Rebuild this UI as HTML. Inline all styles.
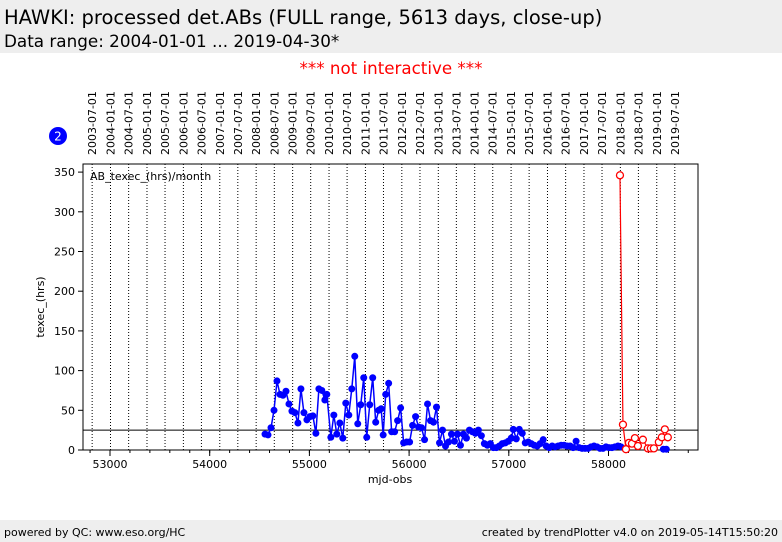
<!DOCTYPE html>
<html><head><meta charset="utf-8"><style>
body{margin:0;width:782px;height:542px;background:#fff;font-family:"DejaVu Sans",sans-serif;overflow:hidden;position:relative}
#hdr{position:absolute;left:0;top:0;width:782px;height:53px;background:#eeeeee}
#t1{position:absolute;left:4px;top:6px;font-size:19.5px}
#t2{position:absolute;left:4px;top:31px;font-size:16.8px}
#ni{position:absolute;left:0;width:782px;top:58px;text-align:center;color:#f00;font-size:16.7px}
#ftr{position:absolute;left:0;top:520px;width:782px;height:22px;background:#eeeeee;font-size:11px}
svg text{font-family:"DejaVu Sans",sans-serif}
</style></head><body>
<div id="hdr">
<div id="t1">HAWKI: processed det.ABs (FULL range, 5613 days, close-up)</div>
<div id="t2">Data range: 2004-01-01 ... 2019-04-30*</div></div>
<div id="ni">*** not interactive ***</div>
<svg id="chart" width="782" height="520" style="position:absolute;left:0;top:0"></svg>
<div id="ftr"><span style="position:absolute;left:4px;top:6px">powered by QC: www.eso.org/HC</span><span style="position:absolute;right:4px;top:6px">created by trendPlotter v4.0 on 2019-05-14T15:50:20</span></div>
<script>
const blueMjd=[54555,54585,54615,54645,54675,54705,54735,54765,54795,54825,54855,54885,54915,54945,54975,55005,55035,55065,55095,55125,55155,55175,55215,55245,55275,55305,55335,55365,55395,55425,55455,55485,55515,55545,55575,55605,55635,55665,55695,55720,55740,55765,55795,55825,55855,55885,55915,55945,55975,56005,56035,56065,56095,56125,56155,56185,56215,56245,56275,56305,56335,56365,56395,56425,56455,56485,56515,56545,56575,56605,56635,56665,56695,56725,56755,56785,56815,56845,56875,56905,56935,56965,56995,57025,57045,57075,57105,57135,57165,57195,57225,57255,57285,57315,57345,57375,57405,57435,57465,57495,57525,57555,57585,57615,57645,57675,57705,57735,57765,57795,57825,57855,57885,57915,57945,57975,58005,58035,58065,58095,58125,58550,58580];
const blueVal=[20,19,28,50,87,70,69,74,58,49,47,34,77,47,38,42,43,21,77,75,63,70,16,44,20,34,15,59,44,77,118,33,57,91,16,57,91,35,50,52,19,70,84,23,23,37,53,9,10,10,31,42,29,28,13,58,37,35,54,9,25,5,10,20,11,20,6,20,15,25,23,21,25,18,8,6,8,3,3,5,8,9,11,15,26,14,26,21,9,10,8,6,5,8,13,5,3,5,4,5,6,6,5,5,3,11,3,2,2,2,4,5,4,2,2,4,3,3,4,5,4,1,1];
const redMjd=[58115,58145,58175,58205,58235,58265,58295,58345,58395,58425,58455,58505,58535,58565,58595];
const redVal=[346,32,1,9,8,15,5,13,2,2,2,10,16,26,16];
const xTicks=[53000,54000,55000,56000,57000,58000];
const yTicks=[0,50,100,150,200,250,300,350];
const refLine=25;
const X0=83,X1=698,Y0=164,Y1=450;
const sx=m=>110+(m-53000)*0.0997;
const sy=v=>450-v*0.794;
const svg=document.getElementById('chart');const NS='http://www.w3.org/2000/svg';
function mk(t,a,p){const e=document.createElementNS(NS,t);for(const k in a)e.setAttribute(k,a[k]);(p||svg).appendChild(e);return e;}
function mjdOf(y,mo){return Math.round((Date.UTC(y,mo-1,1)-Date.UTC(1858,10,17))/86400000);}
for(let y=2003;y<=2019;y++)for(const mo of [1,7]){if(y==2003&&mo==1)continue;
 const x=sx(mjdOf(y,mo));
 const l=mk('line',{x1:x,x2:x,y1:Y0,y2:Y1,stroke:'#000','stroke-width':1,'stroke-dasharray':'1,2'});
 
 const t=mk('text',{x:0,y:0,transform:`translate(${x+4},155) rotate(-90)`,'font-size':11});
 t.textContent=`${y}-${mo==1?'01':'07'}-01`;
 }
const fr=mk('rect',{x:X0,y:Y0,width:X1-X0,height:Y1-Y0,fill:'none',stroke:'#000'});

xTicks.forEach(v=>{const x=sx(v);mk('line',{x1:x,x2:x,y1:Y1,y2:Y1+6,stroke:'#000'});
 const t=mk('text',{x:x,y:468,'text-anchor':'middle','font-size':11});t.textContent=v;
 });
for(let v=52800;v<=58800;v+=200){const x=sx(v);if(x>X0&&x<X1)mk('line',{x1:x,x2:x,y1:Y1,y2:Y1+3,stroke:'#000'});}
yTicks.forEach(v=>{const y=sy(v);mk('line',{x1:X0-5,x2:X0,y1:y,y2:y,stroke:'#000'});
 const t=mk('text',{x:X0-8,y:y+4,'text-anchor':'end','font-size':11});t.textContent=v;
 });
let t=mk('text',{x:390,y:483,'text-anchor':'middle','font-size':11});t.textContent='mjd-obs';

t=mk('text',{x:0,y:0,transform:'translate(44,307) rotate(-90)','text-anchor':'middle','font-size':11});t.textContent='texec_(hrs)';

t=mk('text',{x:90,y:180,'font-size':11});t.textContent='AB_texec_(hrs)/month';

const rl=mk('line',{x1:X0,x2:X1,y1:sy(refLine),y2:sy(refLine),stroke:'#000'});

const bp=mk('polyline',{points:blueMjd.slice(0,-2).map((m,i)=>sx(m)+','+sy(blueVal[i])).join(' '),fill:'none',stroke:'#0000ff','stroke-width':1.5});

const bp2=mk('polyline',{points:blueMjd.slice(-2).map((m,i)=>sx(m)+','+sy(blueVal[blueVal.length-2+i])).join(' '),fill:'none',stroke:'#0000ff','stroke-width':1.5});

blueMjd.forEach((m,i)=>{const c=mk('circle',{cx:sx(m),cy:sy(blueVal[i]),r:3.5,fill:'#0000ff'});
 });
const rp=mk('polyline',{points:redMjd.map((m,i)=>sx(m)+','+sy(redVal[i])).join(' '),fill:'none',stroke:'#ff0000','stroke-width':1.2});

redMjd.forEach((m,i)=>{const c=mk('circle',{cx:sx(m),cy:sy(redVal[i]),r:3.5,fill:'#fff',stroke:'#ff0000','stroke-width':1.3});
 });
const bc=mk('circle',{cx:58,cy:136,r:9,fill:'#0000ff'});

t=mk('text',{x:58,y:140.5,'text-anchor':'middle','font-size':12,fill:'#fff'});t.textContent='2';

</script></body></html>
